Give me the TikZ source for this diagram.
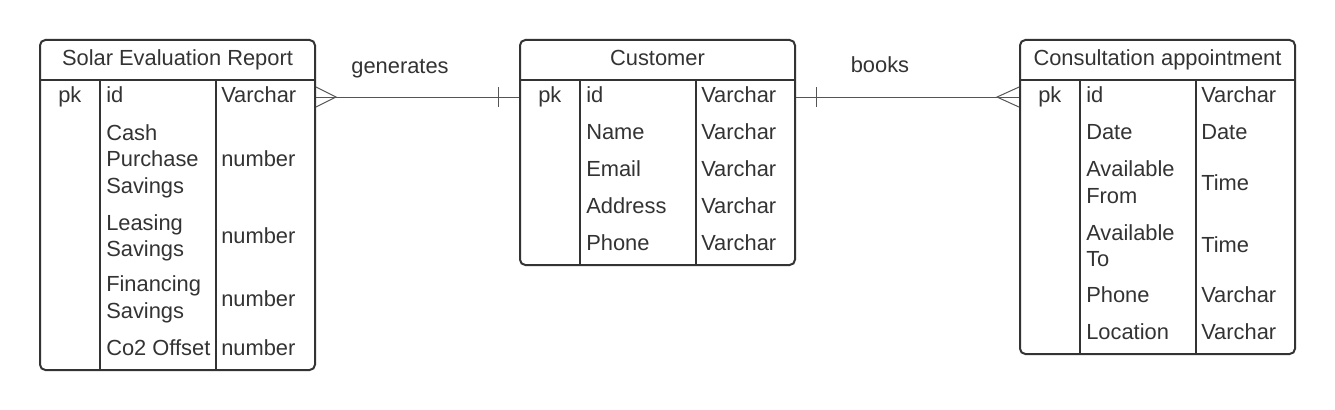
\documentclass[tikz,border=0pt]{standalone}
\usepackage{fontspec}
\setmainfont{Liberation Sans}
\usetikzlibrary{calc}
\definecolor{ink}{HTML}{333333}
\definecolor{wire}{HTML}{555555}
\tikzset{
	tbl/.style={draw=ink, line width=1.5pt, rounded corners=4pt, minimum width=206.25pt, inner sep=0pt},
	tblline/.style={draw=ink, line width=1.5pt},
	field/.style={anchor=base west, inner sep=0pt, text=ink, font=\fontsize{16.4}{20}\selectfont},
	fieldlines/.style={anchor=north west, inner sep=0pt, align=left, text=ink, font=\fontsize{16.4}{20}\selectfont},
	heading/.style={anchor=base, inner sep=0pt, text=ink, font=\fontsize{16.4}{20}\selectfont},
	relline/.style={draw=wire, line width=0.75pt},
}

\begin{document}
\begin{tikzpicture}[x=0.75pt,y=-0.75pt]
	\useasboundingbox (0,0) rectangle (1335,410);
	% tables
	\node[tbl, minimum height=247.5pt] (report) at (177.5,205) {};
	\node[tbl, minimum height=168.75pt] (customer) at (657.5,152.5) {};
	\node[tbl, minimum height=235.5pt] (appointment) at (1157.5,197) {};
	\draw[tblline] (40,80) -- (315,80);
	\draw[tblline] (100,80) -- (100,370);
	\draw[tblline] (215.5,80) -- (215.5,370);
	\draw[tblline] (520,80) -- (795,80);
	\draw[tblline] (580,80) -- (580,265);
	\draw[tblline] (696,80) -- (696,265);
	\draw[tblline] (1020,80) -- (1295,80);
	\draw[tblline] (1080,80) -- (1080,354);
	\draw[tblline] (1196,80) -- (1196,354);
	% solar evaluation report
	\node[heading] (rtitle) at (177.5,65) {Solar Evaluation Report};
	\node[field] (rpk) at (58,102.7) {pk};
	\node[field] (rid) at (106,102.7) {id};
	\node[field] (rtid) at (221,102.7) {Varchar};
	\node[fieldlines] (rcash) at (106,124) {Cash\\Purchase\\Savings};
	\node[field] (rtcash) at (221,166.7) {number};
	\node[fieldlines] (rlease) at (106,214) {Leasing\\Savings};
	\node[field] (rtlease) at (221,243.3) {number};
	\node[fieldlines] (rfin) at (106,275.7) {Financing\\Savings};
	\node[field] (rtfin) at (221,306) {number};
	\node[field] (rco) at (106,355) {Co2 Offset};
	\node[field] (rtco) at (221,355) {number};
	% customer
	\node[heading] (ctitle) at (657.5,65) {Customer};
	\node[field] (cpk) at (538,102.7) {pk};
	\node[field] (cid) at (586,102.7) {id};
	\node[field] (ctid) at (701,102.7) {Varchar};
	\node[field] (cname) at (586,139.5) {Name};
	\node[field] (ctname) at (701,139.5) {Varchar};
	\node[field] (cmail) at (586,176.5) {Email};
	\node[field] (ctmail) at (701,176.5) {Varchar};
	\node[field] (caddr) at (586,213.5) {Address};
	\node[field] (ctaddr) at (701,213.5) {Varchar};
	\node[field] (cphone) at (586,250.5) {Phone};
	\node[field] (ctphone) at (701,250.5) {Varchar};
	% consultation appointment
	\node[heading] (atitle) at (1157.5,65) {Consultation appointment};
	\node[field] (apk) at (1038,102.7) {pk};
	\node[field] (aid) at (1086,102.7) {id};
	\node[field] (atid) at (1201,102.7) {Varchar};
	\node[field] (adate) at (1086,139.3) {Date};
	\node[field] (atdate) at (1201,139.3) {Date};
	\node[fieldlines] (afrom) at (1086,160.7) {Available\\From};
	\node[field] (atfrom) at (1201,190) {Time};
	\node[fieldlines] (ato) at (1086,224) {Available\\To};
	\node[field] (atto) at (1201,252.7) {Time};
	\node[field] (aphone) at (1086,302.7) {Phone};
	\node[field] (atphone) at (1201,302.7) {Varchar};
	\node[field] (aloc) at (1086,339.3) {Location};
	\node[field] (atloc) at (1201,339.3) {Varchar};
	% relationships
	\node[heading] (generates) at (400,74) {generates};
	\node[heading] (books) at (880,73) {books};
	\draw[relline] (report.east |- rpk) -- (customer.west |- cpk);
	\draw[relline] ($(report.east |- rpk)+(0,-10)$) -- ($(report.east |- rpk)+(20,0)$) -- ($(report.east |- rpk)+(0,10)$);
	\draw[relline] ($(customer.west |- cpk)+(-21,-10)$) -- ++(0,20);
	\draw[relline] (customer.east |- cpk) -- (appointment.west |- apk);
	\draw[relline] ($(customer.east |- cpk)+(20,-10)$) -- ++(0,20);
	\draw[relline] ($(appointment.west |- apk)+(0,-10)$) -- ($(appointment.west |- apk)+(-22,0)$) -- ($(appointment.west |- apk)+(0,10)$);
\end{tikzpicture}
\end{document}
